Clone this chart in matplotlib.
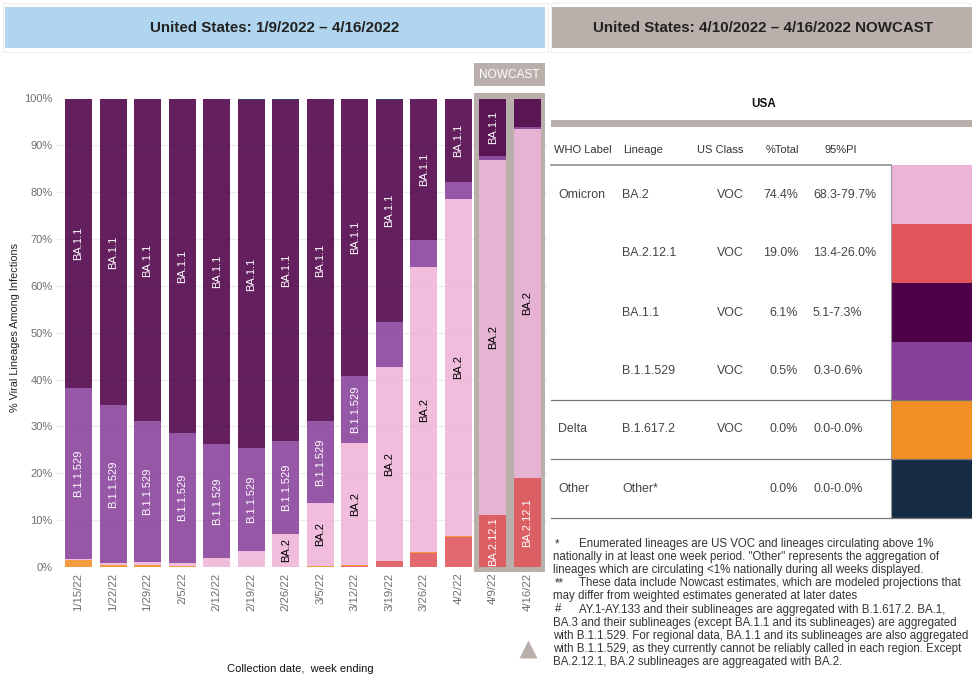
import matplotlib
matplotlib.use('Agg')
import matplotlib.pyplot as plt
from matplotlib.patches import Rectangle
import numpy as np

plt.rcParams['font.family'] = ['Liberation Sans', 'DejaVu Sans']

W, H, DPI = 972, 674, 100

# ---------------- data ----------------
dates = ['1/15/22', '1/22/22', '1/29/22', '2/5/22', '2/12/22', '2/19/22', '2/26/22',
         '3/5/22', '3/12/22', '3/19/22', '3/26/22', '4/2/22', '4/9/22', '4/16/22']
ba2_12_1 = [0.0, 0.0, 0.0, 0.0, 0.0, 0.0, 0.0, 0.1, 0.3, 1.2, 3.0, 6.5, 11.0, 19.0]
delta    = [1.6, 0.5, 0.5, 0.2, 0.1, 0.05, 0.05, 0.2, 0.1, 0.15, 0.1, 0.1, 0.1, 0.1]
ba2      = [0.1, 0.3, 0.6, 0.7, 1.9, 3.4, 7.0, 13.4, 26.1, 41.4, 61.0, 72.0, 75.8, 74.4]
b11529   = [36.5, 33.7, 30.1, 27.8, 24.2, 21.9, 19.8, 17.5, 14.3, 9.6, 5.7, 3.6, 0.8, 0.5]
ba11     = [61.6, 65.3, 68.6, 71.1, 73.6, 74.4, 72.9, 68.6, 59.0, 47.4, 30.0, 17.6, 12.1, 6.1]
other    = [0.2, 0.2, 0.2, 0.2, 0.2, 0.2, 0.2, 0.2, 0.2, 0.2, 0.2, 0.2, 0.2, 0.0]
nowcast_dates = ['4/9/22', '4/16/22']

series_names = ['BA.2.12.1', 'B.1.617.2', 'BA.2', 'B.1.1.529', 'BA.1.1', 'Other']
series_vals = [ba2_12_1, delta, ba2, b11529, ba11, other]

tbl_who = ['Omicron', '', '', '', 'Delta', 'Other']
tbl_lineage = ['BA.2', 'BA.2.12.1', 'BA.1.1', 'B.1.1.529', 'B.1.617.2', 'Other*']
tbl_class = ['VOC', 'VOC', 'VOC', 'VOC', 'VOC', '']
tbl_pct = ['74.4%', '19.0%', '6.1%', '0.5%', '0.0%', '0.0%']
tbl_pi = ['68.3-79.7%', '13.4-26.0%', '5.1-7.3%', '0.3-0.6%', '0.0-0.0%', '0.0-0.0%']

colors = {'BA.2': '#EEB4D8', 'BA.2.12.1': '#E1545A', 'BA.1.1': '#4D0048',
          'B.1.1.529': '#87409A', 'B.1.617.2': '#F28F24', 'Other': '#172D45',
          'Other*': '#172D45'}
label_color = {'BA.2': 'black', 'BA.2.12.1': 'white', 'BA.1.1': 'white',
               'B.1.1.529': 'white', 'B.1.617.2': 'white', 'Other': 'white'}

footnotes = [
    ('*', 'Enumerated lineages are US VOC and lineages circulating above 1%'),
    ('', 'nationally in at least one week period. "Other" represents the aggregation of'),
    ('', 'lineages which are circulating <1% nationally during all weeks displayed.'),
    ('**', 'These data include Nowcast estimates, which are modeled projections that'),
    ('', 'may differ from weighted estimates generated at later dates'),
    ('#', 'AY.1-AY.133 and their sublineages are aggregated with B.1.617.2. BA.1,'),
    ('', 'BA.3 and their sublineages (except BA.1.1 and its sublineages) are aggregated'),
    ('', 'with B.1.1.529. For regional data, BA.1.1 and its sublineages are also aggregated'),
    ('', 'with B.1.1.529, as they currently cannot be reliably called in each region. Except'),
    ('', 'BA.2.12.1, BA.2 sublineages are aggreagated with BA.2.'),
]

GREY = '#BAB0AB'
BLUE = '#AFD6EE'

fig = plt.figure(figsize=(W / DPI, H / DPI), dpi=DPI)

# overlay axes in pixel coordinates
ov = fig.add_axes([0, 0, 1, 1])
ov.set_xlim(0, W)
ov.set_ylim(H, 0)
ov.axis('off')

# headers
ov.add_patch(Rectangle((3, 3), 545, 49, fc='none', ec='#eeeeee', lw=0.8))
ov.add_patch(Rectangle((551, 3), 425, 49, fc='none', ec='#eeeeee', lw=0.8))
ov.add_patch(Rectangle((5, 7), 540, 41, fc=BLUE, ec='none'))
ov.add_patch(Rectangle((552, 7), 420, 41, fc=GREY, ec='none'))
ov.text(275, 27.5, 'United States: 1/9/2022 \u2013 4/16/2022', ha='center', va='center',
        fontsize=10.9, fontweight='bold', color='#222222')
ov.text(763, 27.5, 'United States: 4/10/2022 \u2013 4/16/2022 NOWCAST', ha='center', va='center',
        fontsize=10.9, fontweight='bold', color='#222222')

# ---------------- main chart ----------------
x_left, x_right, y_top, y_bot = 57, 547, 98.5, 567
ax = fig.add_axes([x_left / W, 1 - y_bot / H, (x_right - x_left) / W, (y_bot - y_top) / H])
ax.patch.set_alpha(0)
pitch = 34.54
ax.set_xlim(-(78.5 - x_left) / pitch, 13 + (x_right - 527.5) / pitch)
ax.set_ylim(0, 100)
px_per_pct = (y_bot - y_top) / 100.0

x = np.arange(len(dates))
# nowcast background
now_idx = [dates.index(d) for d in nowcast_dates]
nx0 = now_idx[0] - 0.55
nx1 = now_idx[-1] + 0.51
ax.add_patch(Rectangle((nx0, -1.1), nx1 - nx0, 102.3, fc=GREY, ec='none', clip_on=False, zorder=1.0))
ax.add_patch(Rectangle((nx0, 102.6), nx1 - nx0, 4.9, fc=GREY, ec='none', clip_on=False, zorder=1.0))
ax.text((nx0 + nx1) / 2, 105.05, 'NOWCAST', ha='center', va='center', color='white',
        fontsize=8.6, clip_on=False)
ax.plot([now_idx[-1]], [-17.4], marker='^', ms=13, color=GREY, clip_on=False, mec='none')

ax.yaxis.grid(True, color='#ececec', lw=0.9)
ax.set_axisbelow(True)
ax.axhline(0, color='#c8c8c8', ls=(0, (1, 1.5)), lw=0.9, zorder=0.6)

bw = 27 / pitch
bottom = np.zeros(len(dates))
texts = []
for name, vals in zip(series_names, series_vals):
    v = np.array(vals, dtype=float)
    ax.bar(x, v, bw, bottom=bottom, color=colors[name], alpha=0.88, lw=0, zorder=2)
    for i in range(len(dates)):
        if v[i] > 0:
            t = ax.text(x[i], bottom[i] + v[i] / 2, name, rotation=90, ha='center', va='center',
                        fontsize=8.0, color=label_color[name], zorder=3)
            texts.append((t, v[i]))
    bottom += v

fig.canvas.draw()
r = fig.canvas.get_renderer()
for t, val in texts:
    h = t.get_window_extent(r).height
    if h > val * px_per_pct - 1:
        t.remove()

for s in ax.spines.values():
    s.set_visible(False)
ax.set_yticks(np.arange(0, 101, 10))
ax.set_yticklabels([f'{v}%' for v in range(0, 101, 10)], fontsize=8, color='#6e6e6e')
ax.set_xticks(x)
ax.set_xticklabels(dates, rotation=90, fontsize=8.2, color='#6e6e6e')
ax.tick_params(axis='both', length=0)
ax.tick_params(axis='y', pad=3)
ax.tick_params(axis='x', pad=4)

fig.text(15 / W, 1 - 327 / H, '% Viral Lineages Among Infections', rotation=90,
         ha='center', va='center', fontsize=7.8, color='#222222')
fig.text(300 / W, 1 - 669 / H, 'Collection date,  week ending', ha='center', va='center',
         fontsize=8, color='#111111')

# ---------------- table ----------------
ov.text(764, 104, 'USA', ha='center', va='center', fontsize=8.4, fontweight='bold', color='#111111')
ov.add_patch(Rectangle((551, 120), 421, 7, fc=GREY, ec='none'))
hy = 150
hdr_kw = dict(va='center', fontsize=8.0, color='#333333')
ov.text(554, hy, 'WHO Label', ha='left', **hdr_kw)
ov.text(623, hy, 'Lineage', ha='left', **hdr_kw)
ov.text(720, hy, 'US Class', ha='center', **hdr_kw)
ov.text(782, hy, '%Total', ha='center', **hdr_kw)
ov.text(841, hy, '95%PI', ha='center', **hdr_kw)
ov.plot([551, 891], [164.5, 164.5], color='#999999', lw=1.3)

row_edges = [165, 224, 283, 342, 400, 459, 518]
cell_kw = dict(va='center', fontsize=8.9, color='#444444')
for i in range(len(tbl_lineage)):
    y0, y1 = row_edges[i], row_edges[i + 1]
    yc = (y0 + y1) / 2
    ov.add_patch(Rectangle((891, y0), 81, y1 - y0, fc=colors[tbl_lineage[i]], ec='none'))
    ov.text(558, yc, tbl_who[i], ha='left', **cell_kw)
    ov.text(622, yc, tbl_lineage[i], ha='left', **cell_kw)
    ov.text(744, yc, tbl_class[i], ha='right', **cell_kw)
    ov.text(798, yc, tbl_pct[i], ha='right', **cell_kw)
    ov.text(813, yc, tbl_pi[i], ha='left', **cell_kw)
ov.plot([891, 891], [165, 518], color='#999999', lw=0.8)
for yy in [400, 459, 518]:
    ov.plot([551, 972], [yy, yy], color='#777777', lw=0.9)

# ---------------- footnotes ----------------
fy0 = 544
fn_size = 8.3
for i, (mark, line) in enumerate(footnotes):
    yy = fy0 + i * 13.1
    if mark:
        ov.text(555, yy, mark, ha='left', va='center', fontsize=fn_size, color='#333333')
        ov.text(579, yy, line, ha='left', va='center', fontsize=fn_size, color='#333333')
    else:
        ov.text(553, yy, line, ha='left', va='center', fontsize=fn_size, color='#333333')

fig.savefig('out.png', dpi=DPI)
